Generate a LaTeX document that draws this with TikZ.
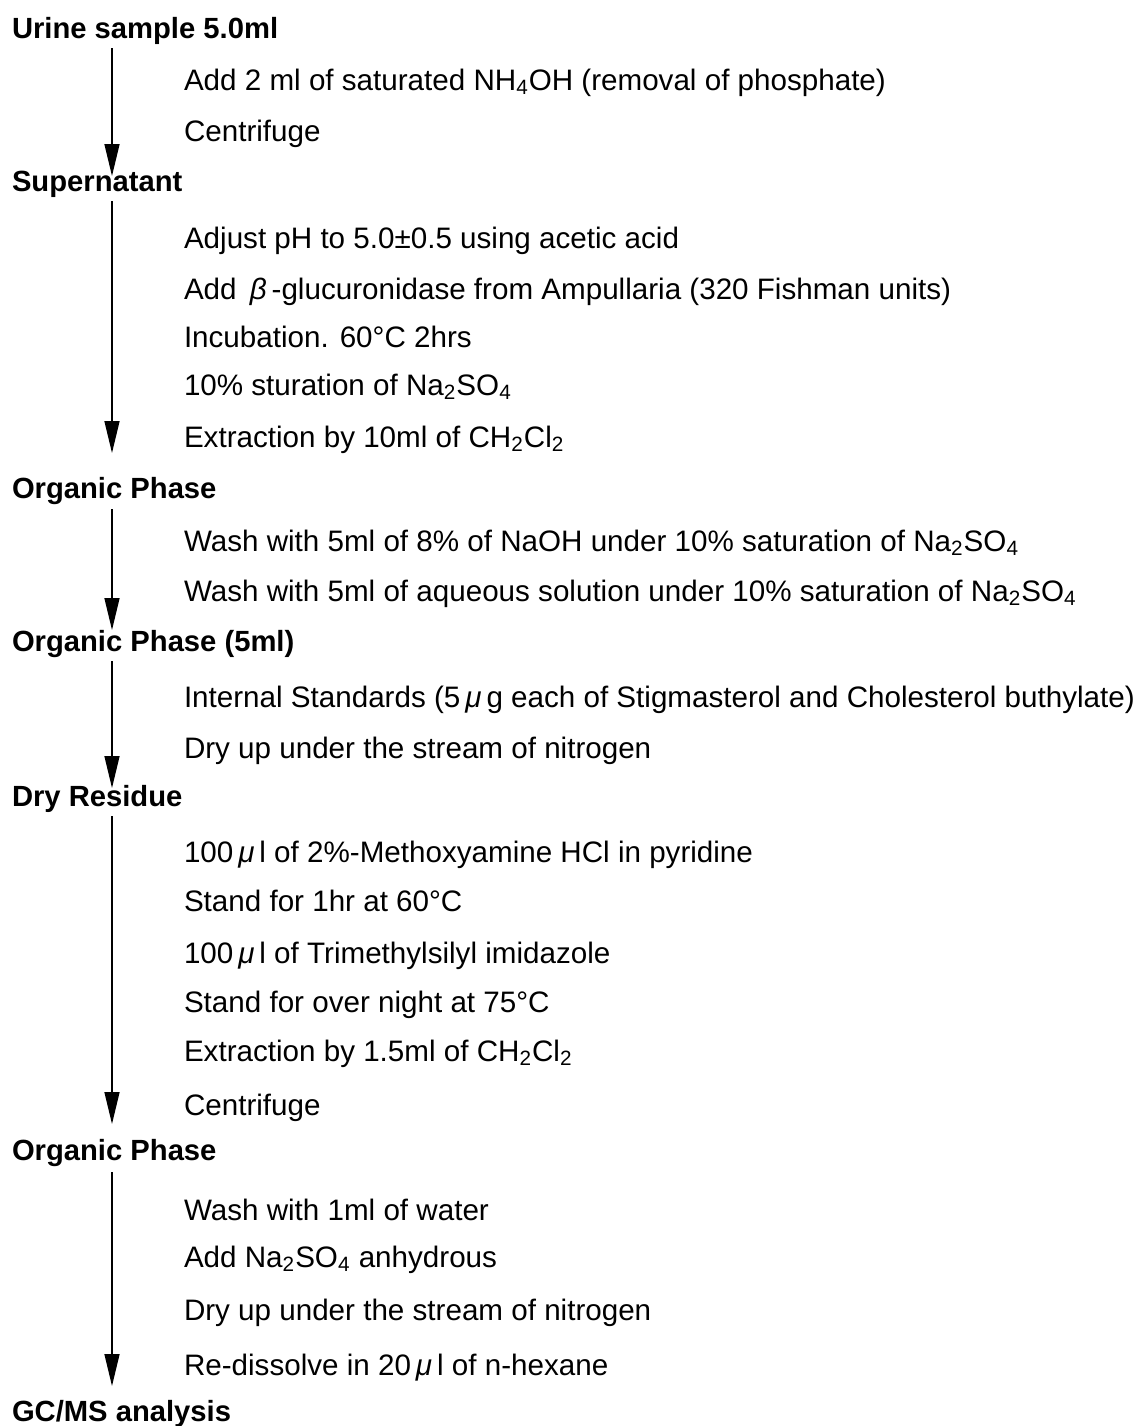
\documentclass[tikz,border=0pt]{standalone}
\usepackage{fontspec}
\setmainfont{Liberation Sans}
\usetikzlibrary{arrows.meta}
\newcommand{\gk}[1]{{\itshape #1}}
\begin{document}
\begin{tikzpicture}[x=0.5pt,y=-0.5pt,
  every node/.style={inner sep=0pt,outer sep=0pt,anchor=base west,font=\fontsize{14.8pt}{17pt}\selectfont},
  head/.style={font=\fontsize{14.6pt}{17pt}\selectfont\bfseries},
  stepline/.style={},
  flow/.style={line width=0.75pt,-{Triangle[length=16pt,width=7.5pt]}}]
\useasboundingbox[fill=white] (0,0) rectangle (1142,1426);
% headers
\node[head] (h1) at (12,38) {Urine sample 5.0ml};
\node[head] (h2) at (12,191) {Supernatant};
\node[head] (h3) at (12,498) {Organic Phase};
\node[head] (h4) at (12,651) {Organic Phase (5ml)};
\node[head] (h5) at (12,806) {Dry Residue};
\node[head] (h6) at (12,1160) {Organic Phase};
\node[head] (h7) at (12,1421) {GC/MS analysis};
% steps
\node[stepline] (s1) at (184,90) {Add 2 ml of saturated NH\textsubscript{4}OH (removal of phosphate)};
\node[stepline] (s2) at (184,141) {Centrifuge};
\node[stepline] (s3) at (184,248) {Adjust pH to 5.0±0.5 using acetic acid};
\node[stepline] (s4) at (184,299) {Add \,\gk{β}\,-glucuronidase from Ampullaria (320 Fishman units)};
\node[stepline] (s5) at (184,347) {Incubation. 60°C 2hrs};
\node[stepline] (s6) at (184,395) {10\% sturation of Na\textsubscript{2}SO\textsubscript{4}};
\node[stepline] (s7) at (184,447) {Extraction by 10ml of CH\textsubscript{2}Cl\textsubscript{2}};
\node[stepline] (s8) at (184,551) {Wash with 5ml of 8\% of NaOH under 10\% saturation of Na\textsubscript{2}SO\textsubscript{4}};
\node[stepline] (s9) at (184,601) {Wash with 5ml of aqueous solution under 10\% saturation of Na\textsubscript{2}SO\textsubscript{4}};
\node[stepline] (s10) at (184,707) {Internal Standards (5\,\gk{μ}\,g each of Stigmasterol and Cholesterol buthylate)};
\node[stepline] (s11) at (184,758) {Dry up under the stream of nitrogen};
\node[stepline] (s12) at (184,862) {100\,\gk{μ}\,l of 2\%-Methoxyamine HCl in pyridine};
\node[stepline] (s13) at (184,911) {Stand for 1hr at 60°C};
\node[stepline] (s14) at (184,963) {100\,\gk{μ}\,l of Trimethylsilyl imidazole};
\node[stepline] (s15) at (184,1012) {Stand for over night at 75°C};
\node[stepline] (s16) at (184,1061) {Extraction by 1.5ml of CH\textsubscript{2}Cl\textsubscript{2}};
\node[stepline] (s17) at (184,1115) {Centrifuge};
\node[stepline] (s18) at (184,1220) {Wash with 1ml of water};
\node[stepline] (s19) at (184,1267) {Add Na\textsubscript{2}SO\textsubscript{4} anhydrous};
\node[stepline] (s20) at (184,1320) {Dry up under the stream of nitrogen};
\node[stepline] (s21) at (184,1375) {Re-dissolve in 20\,\gk{μ}\,l of n-hexane};
% arrow end points
\coordinate (a1s) at (112,48);   \coordinate (a1e) at (112,176);
\coordinate (a2s) at (112,201);  \coordinate (a2e) at (112,453);
\coordinate (a3s) at (112,509);  \coordinate (a3e) at (112,630);
\coordinate (a4s) at (112,661);  \coordinate (a4e) at (112,788);
\coordinate (a5s) at (112,816);  \coordinate (a5e) at (112,1124);
\coordinate (a6s) at (112,1172); \coordinate (a6e) at (112,1386);
\draw[flow] (a1s) -- (a1e);
\draw[flow] (a2s) -- (a2e);
\draw[flow] (a3s) -- (a3e);
\draw[flow] (a4s) -- (a4e);
\draw[flow] (a5s) -- (a5e);
\draw[flow] (a6s) -- (a6e);
\end{tikzpicture}
\end{document}
